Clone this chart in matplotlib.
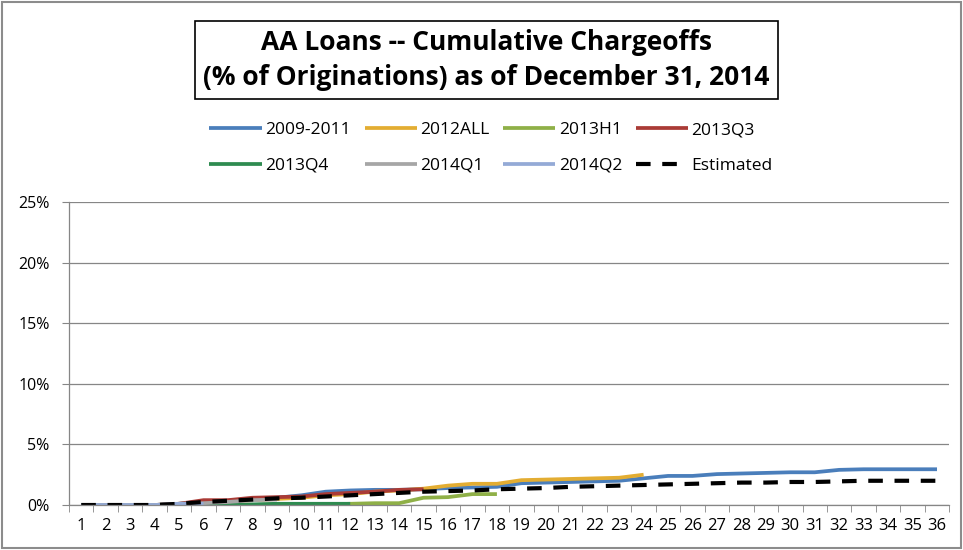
import matplotlib
matplotlib.use("Agg")
import matplotlib.pyplot as plt
from matplotlib.patches import Rectangle

plt.rcParams['font.family'] = ['Open Sans', 'DejaVu Sans']

months = list(range(1, 37))

# cumulative chargeoffs, % of originations, by loan age in months
s_2009_2011 = [0, 0, 0, 0, 0.1, 0.3, 0.35, 0.5, 0.6, 0.8, 1.1, 1.2, 1.25, 1.25, 1.3, 1.4,
               1.45, 1.5, 1.8, 1.85, 1.9, 1.95, 2.0, 2.2, 2.4, 2.4, 2.55, 2.6, 2.65, 2.7,
               2.7, 2.9, 2.95, 2.95, 2.95, 2.95]
s_2012all = [0, 0, 0, 0, 0.1, 0.2, 0.3, 0.4, 0.5, 0.6, 0.8, 0.9, 1.1, 1.2, 1.35, 1.6,
             1.75, 1.75, 2.05, 2.1, 2.15, 2.2, 2.25, 2.5]
s_2013h1 = [0, 0, 0, 0, 0, 0, 0, 0, 0.05, 0.05, 0.05, 0.1, 0.15, 0.15, 0.6, 0.65, 0.9, 0.9]
s_2013q3 = [0, 0, 0, 0, 0.1, 0.4, 0.4, 0.6, 0.65, 0.7, 0.9, 1.0, 1.1, 1.25, 1.3]
s_2013q4 = [0, 0, 0, 0, 0, 0, 0, 0.05, 0.1, 0.1, 0.1, 0.1]
s_2014q1 = [0, 0, 0, 0, 0.1, 0.15, 0.25, 0.4, 0.45]
s_2014q2 = [0, 0, 0, 0, 0.1, 0.1]
estimated = [0, 0, 0, 0, 0.1, 0.25, 0.35, 0.45, 0.55, 0.6, 0.7, 0.8, 0.9, 1.0, 1.1, 1.15,
             1.2, 1.3, 1.35, 1.4, 1.5, 1.55, 1.6, 1.65, 1.7, 1.75, 1.8, 1.85, 1.85, 1.9,
             1.9, 1.95, 2.0, 2.0, 2.0, 2.0]

series = [
    ("2009-2011", s_2009_2011, "#4a7ebb"),
    ("2012ALL", s_2012all, "#e3ad32"),
    ("2013H1", s_2013h1, "#8fb047"),
    ("2013Q3", s_2013q3, "#aa3b36"),
    ("2013Q4", s_2013q4, "#2e8b50"),
    ("2014Q1", s_2014q1, "#a6a6a6"),
    ("2014Q2", s_2014q2, "#94aad6"),
]

fig = plt.figure(figsize=(9.63, 5.5), dpi=100)
ax = fig.add_axes([0.0717, 0.0818, 0.914, 0.5509])

handles = []
for name, vals, col in series:
    h, = ax.plot(months[:len(vals)], vals, color=col, lw=2.7, label=name, solid_capstyle='butt')
    handles.append(h)
h, = ax.plot(months, estimated, color="black", lw=3, ls=(0, (3.5, 2.8)), label="Estimated")
handles.append(h)

ax.set_xlim(0.5, 36.5)
ax.set_ylim(0, 25)
ax.set_yticks([0, 5, 10, 15, 20, 25])
ax.set_yticklabels([f"{v}%" for v in [0, 5, 10, 15, 20, 25]])
ax.set_xticks(months)
ax.set_xticks([m + 0.5 for m in range(0, 37)], minor=True)
ax.tick_params(axis='x', which='major', length=0, labelsize=12, pad=9)
ax.tick_params(axis='x', which='minor', length=5, color="#868686")
ax.tick_params(axis='y', length=5, color="#868686", labelsize=11.5, pad=9)
ax.grid(axis='y', color="#868686", lw=0.9)
ax.set_axisbelow(True)
for sp in ['top', 'right']:
    ax.spines[sp].set_visible(False)
for sp in ['left', 'bottom']:
    ax.spines[sp].set_color("#868686")
    ax.spines[sp].set_linewidth(0.9)

fig.text(0.505, 0.891, "AA Loans -- Cumulative Chargeoffs\n(% of Originations) as of December 31, 2014",
         ha='center', va='center', fontsize=19, fontweight='bold', linespacing=1.38,
         bbox=dict(boxstyle='square,pad=0.32', fc='white', ec='black', lw=1.2))

# legend fills column-first, so interleave the two rows
order = [0, 4, 1, 5, 2, 6, 3, 7]
fig.legend([handles[i] for i in order], [handles[i].get_label() for i in order],
           loc='center', bbox_to_anchor=(0.51, 0.731), ncol=4, frameon=False,
           fontsize=12.5, handlelength=3.0, handletextpad=0.2, columnspacing=0.8,
           labelspacing=1.1)

fig.patches.append(Rectangle((0.002, 0.003), 0.996, 0.994, transform=fig.transFigure,
                             fill=False, ec="#8c8c8c", lw=1.5))

fig.savefig("out.png", dpi=100)
